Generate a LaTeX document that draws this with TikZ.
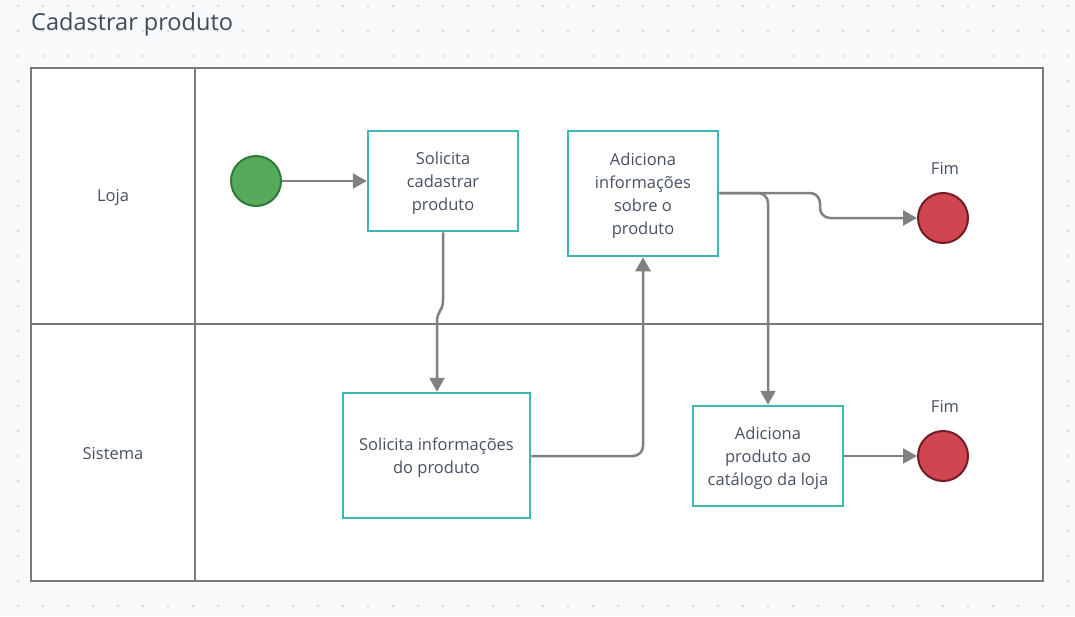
\documentclass[tikz,border=0pt]{standalone}
\usepackage{fontspec}
\setmainfont{Open Sans}
\usetikzlibrary{arrows.meta}
\definecolor{bgc}{HTML}{F8F9FB}
\definecolor{dotc}{HTML}{D5D9E0}
\definecolor{lanec}{HTML}{7A7A7A}
\definecolor{edgec}{HTML}{808080}
\definecolor{tealc}{HTML}{40B5B5}
\definecolor{txtc}{HTML}{485162}
\definecolor{titlec}{HTML}{3F4A5C}
\definecolor{startfill}{HTML}{55AA5B}
\definecolor{startdraw}{HTML}{2F7A35}
\definecolor{endfill}{HTML}{CF4650}
\definecolor{enddraw}{HTML}{751B24}
\tikzset{
  lane/.style={draw=lanec, line width=2pt},
  stepbox/.style={draw=tealc, line width=2.5pt, fill=white, text=txtc, align=center,
    font=\fontsize{16.5}{23}\selectfont, inner sep=0pt, text depth=0pt},
  startev/.style={circle, fill=startfill, draw=startdraw, line width=2pt, minimum size=50pt, inner sep=0pt},
  endev/.style={circle, fill=endfill, draw=enddraw, line width=2pt, minimum size=50pt, inner sep=0pt},
  lbl/.style={text=txtc, font=\fontsize{16.5}{20}\selectfont},
  flow/.style={draw=edgec, line width=2.5pt, -{Triangle[length=14pt,width=15pt]}},
}
\begin{document}
\begin{tikzpicture}[x=1pt,y=-1pt]
\fill[bgc] (0,0) rectangle (1075,616);
\useasboundingbox (0,0) rectangle (1075,616);
\foreach \i in {0,...,42} {\foreach \j in {0,...,24} {\fill[dotc] (18+25*\i,6+25*\j) circle (1.3);}}
\node[anchor=west, inner sep=0pt, text=titlec, font=\fontsize{23.5}{27}\selectfont] (title) at (31,24) {Cadastrar produto};
% lanes
\fill[white] (31,68) rectangle (1043,581);
\draw[lane] (31,68) rectangle (1043,581);
\draw[lane] (195,68) -- (195,581);
\draw[lane] (31,324) -- (1043,324);
\node[lbl] (loja) at (113,197) {Loja};
\node[lbl] (sistema) at (113,454) {Sistema};
% nodes
\node[startev] (start) at (256,181) {};
\node[stepbox, minimum width=150pt, minimum height=100pt] (b1) at (443,181) {Solicita\\cadastrar\\produto};
\node[stepbox, minimum width=150pt, minimum height=125pt] (b2) at (643,193.5) {Adiciona\\informações\\sobre o\\produto};
\node[stepbox, minimum width=187pt, minimum height=125pt] (b3) at (436.5,455.5) {Solicita informações\\do produto};
\node[stepbox, minimum width=150pt, minimum height=100pt] (b4) at (768,456) {Adiciona\\produto ao\\catálogo da loja};
\node[endev] (e1) at (943,218) {};
\node[endev] (e2) at (943,456) {};
\node[lbl] (fim1) at (945,168) {Fim};
\node[lbl] (fim2) at (945,406) {Fim};
% edges
\draw[flow] (start) -- (b1);
\coordinate (j1) at (443,300);
\coordinate (j2) at (437,322);
\draw[flow] (b1.south -| j1) -- (j1) .. controls (443,312) and (437,310) .. (j2) -- (b3.north -| j2);
\coordinate (c1) at (643,456);
\draw[flow, rounded corners=10pt] (b3.east |- c1) -- (c1) -- (b2.south);
\coordinate (c2) at (768,193);
\draw[flow, rounded corners=10pt] (b2.east |- c2) -- (c2) -- (b4.north);
\coordinate (c3) at (820,193);
\coordinate (c4) at (820,218);
\draw[flow, rounded corners=10pt] (b2.east |- c3) -- (c3) -- (c4) -- (e1.west);
\draw[flow] (b4.east |- e2) -- (e2.west);
\end{tikzpicture}
\end{document}
